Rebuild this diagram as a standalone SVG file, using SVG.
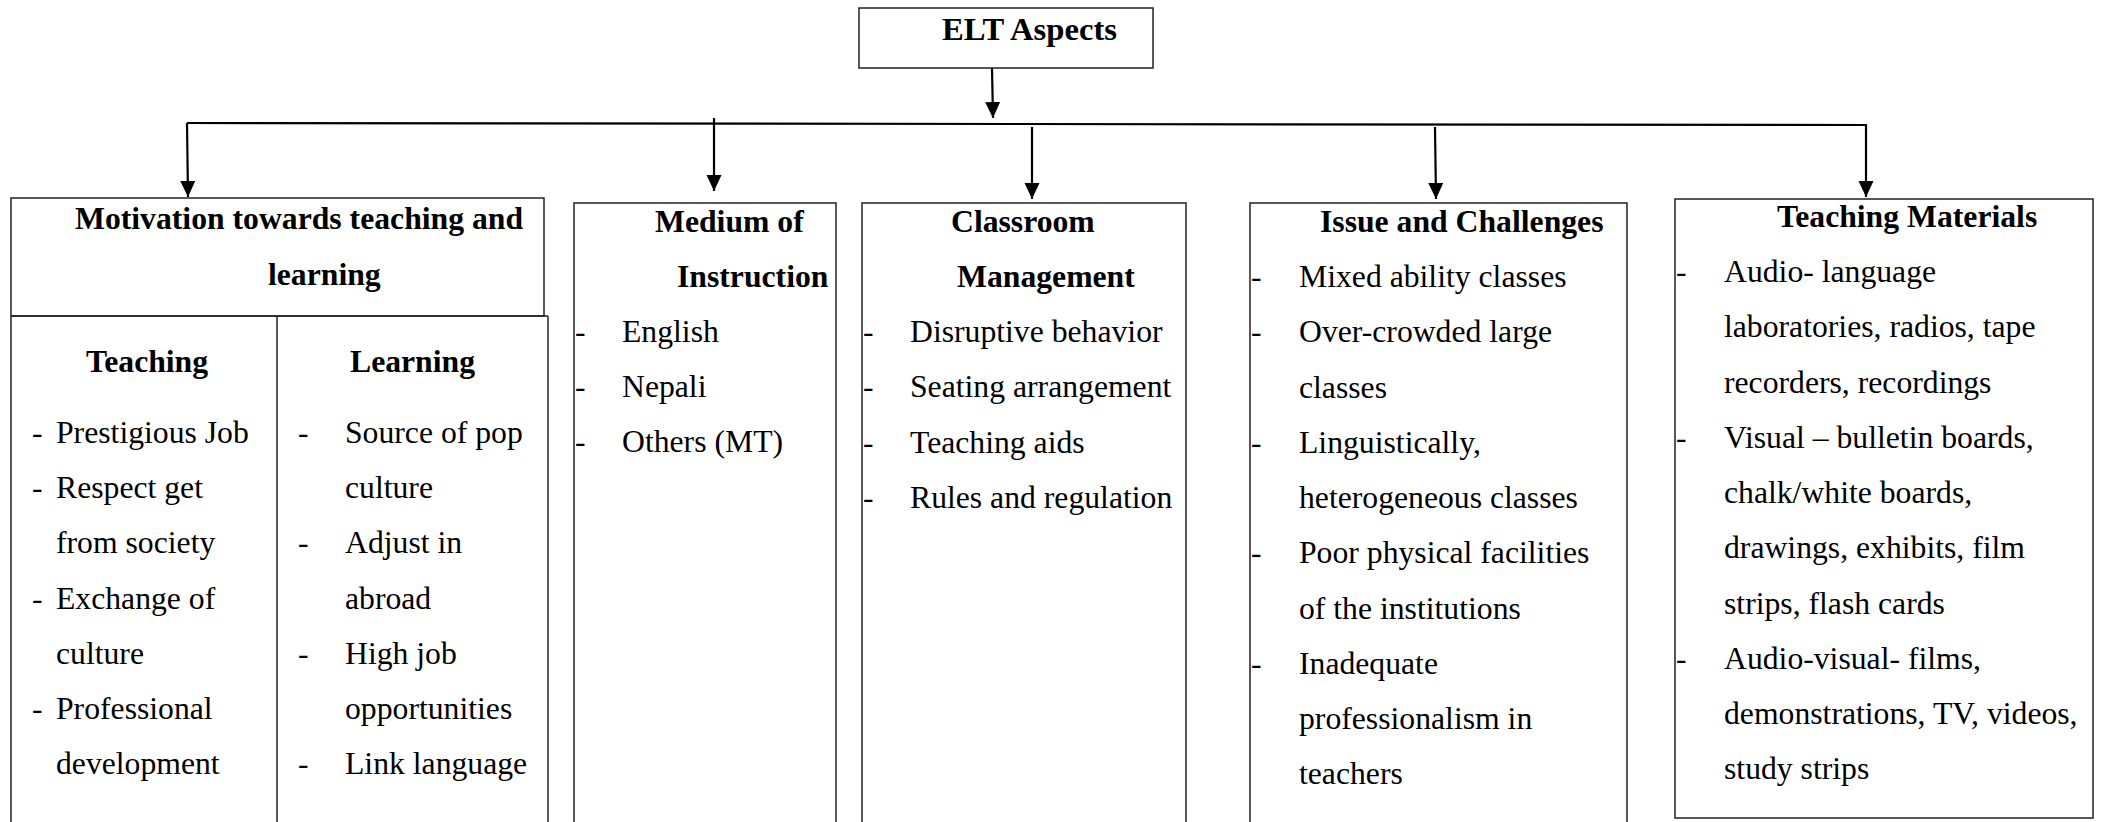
<svg xmlns="http://www.w3.org/2000/svg" width="2101" height="822" viewBox="0 0 2101 822">
<defs>
<marker id="ah" markerWidth="16" markerHeight="16" refX="16" refY="7.5" orient="auto" markerUnits="userSpaceOnUse"><path d="M0,0 L16,7.5 L0,15 z" fill="#000"/></marker>
<style>
.box{fill:#fff;stroke:#222;stroke-width:1.5}
.ln{fill:none;stroke:#222;stroke-width:1.5}
.con{fill:none;stroke:#000;stroke-width:2.2}
text{font-family:"Liberation Serif","Times New Roman",serif;font-size:31.7px;fill:#000}
.b{font-weight:bold}
</style>
</defs>
<rect width="2101" height="822" fill="#fff"/>

<g id="connectors">
<line class="con" x1="992" y1="68" x2="993" y2="118" marker-end="url(#ah)"/>
<polyline class="con" points="187,123 1866,125 1866,197" marker-end="url(#ah)"/>
<line class="con" x1="187" y1="123" x2="188" y2="197" marker-end="url(#ah)"/>
<line class="con" x1="714" y1="118" x2="714" y2="191" marker-end="url(#ah)"/>
<line class="con" x1="1032" y1="127" x2="1032" y2="199" marker-end="url(#ah)"/>
<line class="con" x1="1435" y1="127" x2="1436" y2="199" marker-end="url(#ah)"/>
</g>

<g id="elt-aspects">
<rect class="box" x="859" y="8" width="294" height="60"/>
<text class="b" x="942" y="39.5" font-size="29" textLength="175" lengthAdjust="spacingAndGlyphs">ELT Aspects</text>
</g>

<g id="motivation">
<rect class="box" x="11" y="198" width="533" height="118"/>
<polyline class="ln" points="11,316 11,830"/>
<line class="ln" x1="11" y1="316" x2="548" y2="316"/>
<line class="ln" x1="548" y1="316" x2="548" y2="830"/>
<line class="ln" x1="277" y1="316" x2="277" y2="830"/>
<text class="b" x="75" y="229">Motivation towards teaching and</text>
<text class="b" x="268" y="285">learning</text>
<text class="b" x="86" y="372">Teaching</text>
<text class="b" x="350" y="372">Learning</text>
<text x="32" y="443">-</text><text x="56" y="443">Prestigious Job</text>
<text x="32" y="498">-</text><text x="56" y="498">Respect get</text>
<text x="56" y="553">from society</text>
<text x="32" y="609">-</text><text x="56" y="609">Exchange of</text>
<text x="56" y="664">culture</text>
<text x="32" y="719">-</text><text x="56" y="719">Professional</text>
<text x="56" y="774">development</text>
<text x="298" y="443">-</text><text x="345" y="443">Source of pop</text>
<text x="345" y="498">culture</text>
<text x="298" y="553">-</text><text x="345" y="553">Adjust in</text>
<text x="345" y="609">abroad</text>
<text x="298" y="664">-</text><text x="345" y="664">High job</text>
<text x="345" y="719">opportunities</text>
<text x="298" y="774">-</text><text x="345" y="774">Link language</text>
</g>

<g id="medium">
<rect class="box" x="574" y="203" width="262" height="640"/>
<text class="b" x="655" y="232">Medium of</text>
<text class="b" x="677" y="287">Instruction</text>
<text x="575" y="342">-</text><text x="622" y="342">English</text>
<text x="575" y="397">-</text><text x="622" y="397">Nepali</text>
<text x="575" y="452">-</text><text x="622" y="452">Others (MT)</text>
</g>

<g id="classroom">
<rect class="box" x="862" y="203" width="324" height="640"/>
<text class="b" x="951" y="232">Classroom</text>
<text class="b" x="957" y="287">Management</text>
<text x="863" y="342">-</text><text x="910" y="342">Disruptive behavior</text>
<text x="863" y="397">-</text><text x="910" y="397">Seating arrangement</text>
<text x="863" y="452.5">-</text><text x="910" y="452.5">Teaching aids</text>
<text x="863" y="508">-</text><text x="910" y="508">Rules and regulation</text>
</g>

<g id="issues">
<rect class="box" x="1250" y="203" width="377" height="640"/>
<text class="b" x="1320" y="232">Issue and Challenges</text>
<text x="1251" y="287">-</text><text x="1299" y="287">Mixed ability classes</text>
<text x="1251" y="342">-</text><text x="1299" y="342">Over-crowded large</text>
<text x="1299" y="397.5">classes</text>
<text x="1251" y="453">-</text><text x="1299" y="453">Linguistically,</text>
<text x="1299" y="508">heterogeneous classes</text>
<text x="1251" y="563">-</text><text x="1299" y="563">Poor physical facilities</text>
<text x="1299" y="618.5">of the institutions</text>
<text x="1251" y="674">-</text><text x="1299" y="674">Inadequate</text>
<text x="1299" y="729">professionalism in</text>
<text x="1299" y="784">teachers</text>
</g>

<g id="materials">
<rect class="box" x="1675" y="199" width="418" height="619"/>
<text class="b" x="1777" y="227">Teaching Materials</text>
<text x="1676" y="282">-</text><text x="1724" y="282">Audio- language</text>
<text x="1724" y="337">laboratories, radios, tape</text>
<text x="1724" y="392.5">recorders, recordings</text>
<text x="1676" y="448">-</text><text x="1724" y="448">Visual – bulletin boards,</text>
<text x="1724" y="503">chalk/white boards,</text>
<text x="1724" y="558">drawings, exhibits, film</text>
<text x="1724" y="613.5">strips, flash cards</text>
<text x="1676" y="669">-</text><text x="1724" y="669">Audio-visual- films,</text>
<text x="1724" y="724">demonstrations, TV, videos,</text>
<text x="1724" y="779">study strips</text>
</g>
</svg>
